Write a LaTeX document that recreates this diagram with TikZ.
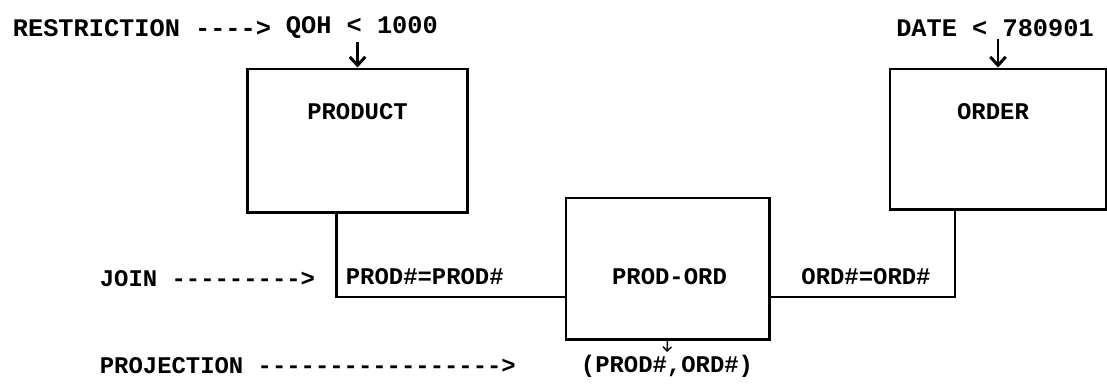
\documentclass[tikz,border=0pt]{standalone}
\usepackage{fontspec}
\setmonofont{Liberation Mono}
\usetikzlibrary{arrows.meta,calc,positioning}

\begin{document}
\begin{tikzpicture}[x=0.025cm,y=-0.025cm,>={Straight Barb[length=6pt,width=11pt]},line width=2.1pt,
  txt/.style={font=\ttfamily\bfseries\fontsize{17}{20}\selectfont,inner sep=1pt},
  toptxt/.style={font=\ttfamily\bfseries\fontsize{18}{21}\selectfont,inner sep=1pt},
  relbox/.style={draw,inner sep=0pt}]
\useasboundingbox (0,0) rectangle (1107,384);
\node[relbox,minimum width=5.475cm,minimum height=3.575cm] (product) at (357.5,140.5) {};
\node[relbox,minimum width=5.4cm,minimum height=3.5cm] (order) at (998,139) {};
\node[relbox,minimum width=5.075cm,minimum height=3.525cm] (prodord) at (667.5,268.5) {};
\node[txt] (productlbl) at ($(product.north)+(0,44)$) {PRODUCT};
\node[txt] (orderlbl) at ($(order.north)+(-5,44)$) {ORDER};
\node[txt] (prodordlbl) at ($(prodord.center)+(2,8)$) {PROD-ORD};
\node[toptxt,anchor=west] (restr) at (10,28) {RESTRICTION ---->};
\node[toptxt,anchor=west] (qoh) at (283,28) {QOH < 1000};
\node[toptxt] (date) at (995,28) {DATE < 780901};
\node[txt,anchor=west] (join) at (97,279) {JOIN --------->};
\node[txt,anchor=west] (proj) at (97,366) {PROJECTION ----------------->};
\node[txt] (keys) at (667,366) {(PROD\#,ORD\#)};
\node[txt,anchor=west] (eqprod) at (343,277) {PROD\#=PROD\#};
\node[txt] (eqord) at (866,277) {ORD\#=ORD\#};
\draw ($(product.south)+(-21,0)$) |- ($(prodord.west)+(0,28.5)$);
\draw ($(order.south)+(-43,0)$) |- ($(prodord.east)+(0,28.5)$);
\draw[->] (product.north |- qoh.south) -- (product.north);
\draw[->] (order.north |- date.south) -- (order.north);
\draw[->,line width=1pt,>={Straight Barb[length=3pt,width=6pt]}] (prodord.south) -- (keys.north);
\end{tikzpicture}
\end{document}
